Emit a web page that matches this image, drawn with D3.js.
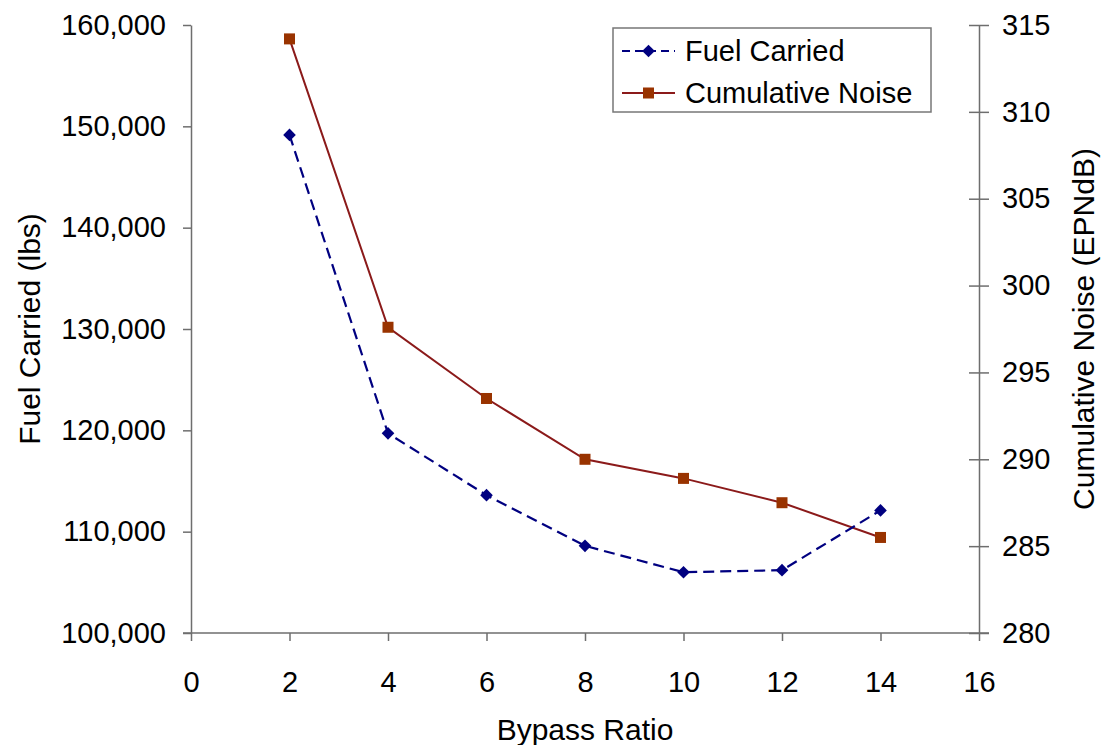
<!DOCTYPE html>
<html>
<head>
<meta charset="utf-8">
<script src="https://cdn.jsdelivr.net/npm/d3@7"></script>
<style>
  body { margin: 0; background: #fff; }
  svg text { font-family: "Liberation Sans", Arial, Helvetica, sans-serif; fill: #000; }
</style>
</head>
<body>
<svg id="chart" width="1105" height="745"></svg>
<script>
// values
const bypassRatio = [2, 4, 6, 8, 10, 12, 14];
const fuelCarried = [149150, 119700, 113600, 108600, 106000, 106200, 112100];
const cumulativeNoise = [314.2, 297.6, 293.5, 290.0, 288.9, 287.5, 285.5];

const xTicks = [0, 2, 4, 6, 8, 10, 12, 14, 16];
const fuelTicks = [100000, 110000, 120000, 130000, 140000, 150000, 160000];
const noiseTicks = [280, 285, 290, 295, 300, 305, 310, 315];

const seriesNames = ['Fuel Carried', 'Cumulative Noise'];

function drawChart(){
    let svg = d3.select('#chart');
    let left = 191, right = 979, top = 25, bottom = 633;
    let fontSize = '29px';
    let axisColor = '#6e6e6e';
    let blue = '#000080';
    let red = '#8b1a1a';
    let redMarker = '#993300';

    let xScale = d3.scaleLinear().domain([0, 16]).range([left, right]);
    let yFuel = d3.scaleLinear().domain([100000, 160000]).range([bottom, top]);
    let yNoise = d3.scaleLinear().domain([280, 315]).range([bottom, top]);

    // x axis - ticks hang below
    let xAxis = d3.axisBottom(xScale)
        .tickValues(xTicks)
        .tickSizeInner(8)
        .tickSizeOuter(0)
        .tickPadding(30);
    let xg = svg.append('g')
        .attr('transform', 'translate(0,' + bottom + ')')
        .call(xAxis);
    xg.select('.domain').remove();
    xg.append('line')
        .attr('x1', left - 8).attr('x2', right + 10)
        .attr('stroke', axisColor).attr('stroke-width', 1.5);

    // left axis
    let yAxisL = d3.axisLeft(yFuel)
        .tickValues(fuelTicks)
        .tickSizeInner(8)
        .tickSizeOuter(0)
        .tickPadding(17)
        .tickFormat(d3.format(','));
    let lg = svg.append('g')
        .attr('transform', 'translate(' + left + ',0)')
        .call(yAxisL);

    // right axis - ticks cross the line
    let yAxisR = d3.axisRight(yNoise)
        .tickValues(noiseTicks)
        .tickSizeInner(10)
        .tickSizeOuter(0)
        .tickPadding(13);
    let rg = svg.append('g')
        .attr('transform', 'translate(' + right + ',0)')
        .call(yAxisR);
    rg.selectAll('.tick line').attr('x1', -10);

    [xg, lg, rg].forEach(function(g){
        g.selectAll('.domain').attr('stroke', axisColor).attr('stroke-width', 1.5);
        g.selectAll('.tick line').attr('stroke', axisColor).attr('stroke-width', 1.5);
        g.selectAll('.tick text')
            .style('font-size', fontSize)
            .style('font-family', '"Liberation Sans", Arial, sans-serif')
            .attr('fill', '#000');
    });

    let fuelData = bypassRatio.map(function(b, i){ return {x: b, y: fuelCarried[i]}; });
    let noiseData = bypassRatio.map(function(b, i){ return {x: b, y: cumulativeNoise[i]}; });

    // noise line (solid, squares)
    svg.append('path')
        .datum(noiseData)
        .attr('fill', 'none')
        .attr('stroke', red)
        .attr('stroke-width', 2)
        .attr('d', d3.line().x(d => xScale(d.x)).y(d => yNoise(d.y)));

    // fuel line (dashed, diamonds)
    svg.append('path')
        .datum(fuelData)
        .attr('fill', 'none')
        .attr('stroke', blue)
        .attr('stroke-width', 2.2)
        .attr('stroke-dasharray', '11,6')
        .attr('d', d3.line().x(d => xScale(d.x)).y(d => yFuel(d.y)));

    svg.selectAll('.fuelPt')
        .data(fuelData)
        .enter()
        .append('path')
        .attr('class', 'fuelPt')
        .attr('transform', d => 'translate(' + xScale(d.x) + ',' + yFuel(d.y) + ') rotate(45)')
        .attr('d', d3.symbol().type(d3.symbolSquare).size(80))
        .attr('fill', blue);

    svg.selectAll('.noisePt')
        .data(noiseData)
        .enter()
        .append('rect')
        .attr('class', 'noisePt')
        .attr('x', d => xScale(d.x) - 5.5)
        .attr('y', d => yNoise(d.y) - 5.5)
        .attr('width', 11)
        .attr('height', 11)
        .attr('fill', redMarker);

    // axis titles
    svg.append('text')
        .attr('transform', 'translate(40,' + ((top + bottom) / 2) + ') rotate(-90)')
        .attr('text-anchor', 'middle')
        .style('font-size', '30px')
        .text('Fuel Carried (lbs)');

    svg.append('text')
        .attr('transform', 'translate(1094,' + ((top + bottom) / 2) + ') rotate(-90)')
        .attr('text-anchor', 'middle')
        .style('font-size', '30px')
        .text('Cumulative Noise (EPNdB)');

    svg.append('text')
        .attr('x', (left + right) / 2)
        .attr('y', 740)
        .attr('text-anchor', 'middle')
        .style('font-size', '30px')
        .text('Bypass Ratio');

    // legend
    let legend = svg.append('g').attr('transform', 'translate(613,28)');
    legend.append('rect')
        .attr('width', 318).attr('height', 84)
        .attr('fill', '#fff')
        .attr('stroke', '#777').attr('stroke-width', 1.5);

    let rows = [
        {name: seriesNames[0], color: blue, dash: '8,5', y: 23},
        {name: seriesNames[1], color: red, dash: null, y: 65}
    ];
    rows.forEach(function(r, i){
        legend.append('line')
            .attr('x1', 9).attr('x2', 62)
            .attr('y1', r.y).attr('y2', r.y)
            .attr('stroke', r.color)
            .attr('stroke-width', 2.2)
            .attr('stroke-dasharray', r.dash);
        if(i == 0){
            legend.append('path')
                .attr('transform', 'translate(35.5,' + r.y + ') rotate(45)')
                .attr('d', d3.symbol().type(d3.symbolSquare).size(80))
                .attr('fill', blue);
        }
        else{
            legend.append('rect')
                .attr('x', 30).attr('y', r.y - 5.5)
                .attr('width', 11).attr('height', 11)
                .attr('fill', redMarker);
        }
        legend.append('text')
            .attr('x', 72)
            .attr('y', r.y)
            .attr('dy', '0.36em')
            .style('font-size', '29px')
            .text(r.name);
    });
}

drawChart();
</script>
</body>
</html>
